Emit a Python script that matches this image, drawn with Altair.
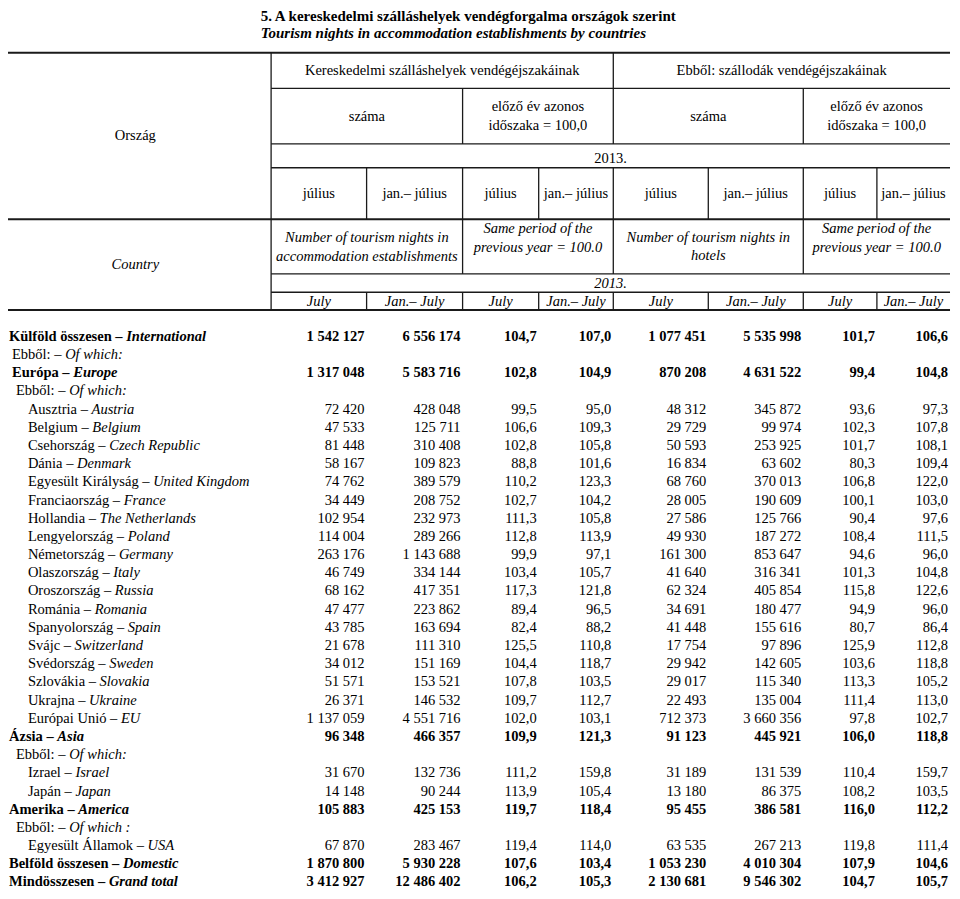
import altair as alt
import pandas as pd

# ---------------- data ----------------
hu_names = ["Külföld összesen", "Ebből:", "Európa", "Ebből:", "Ausztria", "Belgium", "Csehország", "Dánia",
            "Egyesült Királyság", "Franciaország", "Hollandia", "Lengyelország", "Németország", "Olaszország",
            "Oroszország", "Románia", "Spanyolország", "Svájc", "Svédország", "Szlovákia", "Ukrajna",
            "Európai Unió", "Ázsia", "Ebből:", "Izrael", "Japán", "Amerika", "Ebből:", "Egyesült Államok",
            "Belföld összesen", "Mindösszesen"]
en_names = ["International", "Of which:", "Europe", "Of which:", "Austria", "Belgium", "Czech Republic", "Denmark",
            "United Kingdom", "France", "The Netherlands", "Poland", "Germany", "Italy", "Russia", "Romania",
            "Spain", "Switzerland", "Sweden", "Slovakia", "Ukraine", "EU", "Asia", "Of which:", "Israel", "Japan",
            "America", "Of which :", "USA", "Domestic", "Grand total"]
row_level = [0, 1, 1, 2] + [3] * 18 + [0, 2, 3, 3, 0, 2, 3, 0, 0]
bold_rows = [0, 2, 22, 26, 29, 30]

N = None
nights_july = [1542127, N, 1317048, N, 72420, 47533, 81448, 58167, 74762, 34449, 102954, 114004, 263176, 46749,
               68162, 47477, 43785, 21678, 34012, 51571, 26371, 1137059, 96348, N, 31670, 14148, 105883, N, 67870,
               1870800, 3412927]
nights_janjul = [6556174, N, 5583716, N, 428048, 125711, 310408, 109823, 389579, 208752, 232973, 289266, 1143688,
                 334144, 417351, 223862, 163694, 111310, 151169, 153521, 146532, 4551716, 466357, N, 132736, 90244,
                 425153, N, 283467, 5930228, 12486402]
index_july = [104.7, N, 102.8, N, 99.5, 106.6, 102.8, 88.8, 110.2, 102.7, 111.3, 112.8, 99.9, 103.4, 117.3, 89.4,
              82.4, 125.5, 104.4, 107.8, 109.7, 102.0, 109.9, N, 111.2, 113.9, 119.7, N, 119.4, 107.6, 106.2]
index_janjul = [107.0, N, 104.9, N, 95.0, 109.3, 105.8, 101.6, 123.3, 104.2, 105.8, 113.9, 97.1, 105.7, 121.8, 96.5,
                88.2, 110.8, 118.7, 103.5, 112.7, 103.1, 121.3, N, 159.8, 105.4, 118.4, N, 114.0, 103.4, 105.3]
hotel_july = [1077451, N, 870208, N, 48312, 29729, 50593, 16834, 68760, 28005, 27586, 49930, 161300, 41640, 62324,
              34691, 41448, 17754, 29942, 29017, 22493, 712373, 91123, N, 31189, 13180, 95455, N, 63535, 1053230,
              2130681]
hotel_janjul = [5535998, N, 4631522, N, 345872, 99974, 253925, 63602, 370013, 190609, 125766, 187272, 853647,
                316341, 405854, 180477, 155616, 97896, 142605, 115340, 135004, 3660356, 445921, N, 131539, 86375,
                386581, N, 267213, 4010304, 9546302]
hindex_july = [101.7, N, 99.4, N, 93.6, 102.3, 101.7, 80.3, 106.8, 100.1, 90.4, 108.4, 94.6, 101.3, 115.8, 94.9,
               80.7, 125.9, 103.6, 113.3, 111.4, 97.8, 106.0, N, 110.4, 108.2, 116.0, N, 119.8, 107.9, 104.7]
hindex_janjul = [106.6, N, 104.8, N, 97.3, 107.8, 108.1, 109.4, 122.0, 103.0, 97.6, 111.5, 96.0, 104.8, 122.6,
                 96.0, 86.4, 112.8, 118.8, 105.2, 113.0, 102.7, 118.8, N, 159.7, 103.5, 112.2, N, 111.4, 104.6, 105.7]

value_columns = [nights_july, nights_janjul, index_july, index_janjul,
                 hotel_july, hotel_janjul, hindex_july, hindex_janjul]
value_kind = ["int", "int", "idx", "idx", "int", "int", "idx", "idx"]

title_hu = "5. A kereskedelmi szálláshelyek vendégforgalma országok szerint"
title_en = "Tourism nights in accommodation establishments by countries"
group_hu = ["Kereskedelmi szálláshelyek vendégéjszakáinak", "Ebből: szállodák vendégéjszakáinak"]
sub_hu = ["száma", ["előző év azonos", "időszaka = 100,0"], "száma", ["előző év azonos", "időszaka = 100,0"]]
sub_en = [["Number of tourism nights in", "accommodation establishments"], ["Same period of the", "previous year = 100.0"],
          ["Number of tourism nights in", "hotels"], ["Same period of the", "previous year = 100.0"]]
year_label = "2013."
period_hu = ["július", "jan.– július"]
period_en = ["July", "Jan.– July"]

# ---------------- layout ----------------
FONT = "Liberation Serif"
FS = 14.5
EDGES = [272.5, 368.5, 465, 541.5, 616.5, 712, 807.5, 881.5, 955]
RIGHT = 955
LEFT = 8
INDENT = {0: 9, 1: 12, 2: 16, 3: 28}


def row_y(i):
    return 339.5 + 18.33 * i


# Times / Liberation Serif advance widths (per 1000 em)
low = "abcdefghijklmnopqrstuvwxyz"
up = "ABCDEFGHIJKLMNOPQRSTUVWXYZ"
TR = dict(zip(low, [444, 500, 444, 500, 444, 333, 500, 500, 278, 278, 500, 278, 778, 500, 500, 500, 500, 333, 389,
                    278, 500, 500, 722, 500, 500, 444]))
TR.update(zip(up, [722, 667, 667, 722, 611, 556, 722, 722, 333, 389, 722, 611, 889, 722, 722, 556, 722, 667, 556,
                   611, 722, 722, 944, 722, 722, 611]))
TR.update({" ": 250, ":": 278, ".": 250, "–": 500, ",": 250})
TB = dict(zip(low, [500, 556, 444, 556, 444, 333, 500, 556, 278, 333, 556, 278, 833, 556, 500, 556, 556, 444, 389,
                    333, 556, 500, 722, 500, 500, 444]))
TB.update(zip(up, [722, 667, 722, 722, 667, 611, 778, 778, 389, 500, 778, 667, 944, 722, 778, 611, 778, 722, 556,
                   667, 722, 722, 1000, 722, 722, 667]))
TB.update({" ": 250, ":": 333, ".": 250, "–": 500, ",": 250})
ACC = str.maketrans("áéíóöőúüűÁÉÍÓÖŐÚÜŰ", "aeiooouuuAEIOOOUUU")

# plot box and the reference-pixel window mapped onto it (slightly compressed to fit the page)
W, H = 944, 883
XDOM = [8, 957]
YDOM = [8, 898]
KX = W / (XDOM[1] - XDOM[0])


def text_width(s, bold):
    table = TB if bold else TR
    return sum(table.get(ch, 500) for ch in s.translate(ACC)) * FS / 1000.0 / KX


texts = []  # x, y, t, align, weight, style, fs


def add(t, x, y, align="center", weight="normal", style="normal", fs=FS):
    texts.append(dict(x=x, y=y, t=t, align=align, weight=weight, style=style, fs=fs))


# title
add(title_hu, 262, 16, "left", "bold", "normal", 15)
add(title_en, 262, 33, "left", "bold", "italic", 15)

# Hungarian header
add("Ország", 136, 137)
add(group_hu[0], (EDGES[0] + EDGES[4]) / 2, 71.5)
add(group_hu[1], (EDGES[4] + EDGES[8]) / 2, 71.5)
for k, s in enumerate(sub_hu):
    cx = (EDGES[2 * k] + EDGES[2 * k + 2]) / 2
    if isinstance(s, list):
        add(s[0], cx, 108)
        add(s[1], cx, 127)
    else:
        add(s, cx, 117.5)
add(year_label, (EDGES[0] + EDGES[8]) / 2, 160.5)
for c in range(8):
    add(period_hu[c % 2], (EDGES[c] + EDGES[c + 1]) / 2, 195)

# English header
add("Country", 136, 267, style="italic")
for k, s in enumerate(sub_en):
    cx = (EDGES[2 * k] + EDGES[2 * k + 2]) / 2
    if k in (1, 3):
        ys = (231, 250)
    elif k == 0:
        ys = (240, 258.5)
    else:
        ys = (239.5, 257.5)
    add(s[0], cx, ys[0], style="italic")
    add(s[1], cx, ys[1], style="italic")
add(year_label, (EDGES[0] + EDGES[8]) / 2, 286, style="italic")
for c in range(8):
    add(period_en[c % 2], (EDGES[c] + EDGES[c + 1]) / 2, 304, style="italic")

# row labels
for i, (hu, en) in enumerate(zip(hu_names, en_names)):
    bold = i in bold_rows
    w = "bold" if bold else "normal"
    x0 = INDENT[row_level[i]]
    add(hu + " –", x0, row_y(i), "left", w, "normal")
    add(en, x0 + text_width(hu + " – ", bold), row_y(i), "left", w, "italic")

tdf = pd.DataFrame(texts)

# numbers (long format)
nums = []
for c, col in enumerate(value_columns):
    for i, v in enumerate(col):
        if v is None:
            continue
        nums.append(dict(x=EDGES[c + 1] - 2, y=row_y(i), v=v, kind=value_kind[c],
                         weight="bold" if i in bold_rows else "normal"))
ndf = pd.DataFrame(nums)

# grid lines
hsegs, vsegs = [], []


def hline(y, x1, x2, w):
    hsegs.append(dict(x=x1, x2=x2, y=y, w=w))


def vline(x, y1, y2, w=1.3):
    vsegs.append(dict(x=x, y=y1, y2=y2, w=w))


hline(53, LEFT, RIGHT, 2)
hline(221, LEFT, RIGHT, 2)
hline(312.5, LEFT, RIGHT, 2)
for yy in (89, 145, 169, 276, 294.5):
    hline(yy, EDGES[0], RIGHT, 1.3)
vline(EDGES[0], 53, 312.5)
vline(EDGES[4], 53, 145)
for xx in (EDGES[2], EDGES[6]):
    vline(xx, 89, 145)
for xx in (EDGES[2], EDGES[4], EDGES[6]):
    vline(xx, 169, 276)
for xx in (EDGES[1], EDGES[3], EDGES[5], EDGES[7]):
    vline(xx, 169, 221)
for xx in EDGES[1:8]:
    vline(xx, 294.5, 312.5)
hdf = pd.DataFrame(hsegs)
vdf = pd.DataFrame(vsegs)

# ---------------- chart ----------------
xs = alt.Scale(domain=XDOM, nice=False, zero=False)
ys = alt.Scale(domain=YDOM, nice=False, zero=False, reverse=True)
LINE = "#1a1a1a"

hrules = alt.Chart(hdf).mark_rule(color=LINE).encode(
    x=alt.X("x:Q", scale=xs, axis=None), x2="x2:Q",
    y=alt.Y("y:Q", scale=ys, axis=None),
    size=alt.Size("w:Q", scale=None, legend=None),
)
vrules = alt.Chart(vdf).mark_rule(color=LINE).encode(
    x=alt.X("x:Q", scale=xs, axis=None),
    y=alt.Y("y:Q", scale=ys, axis=None), y2="y2:Q",
    size=alt.Size("w:Q", scale=None, legend=None),
)

layers = [hrules, vrules]
for (align, weight, style), g in tdf.groupby(["align", "weight", "style"]):
    layers.append(
        alt.Chart(g).mark_text(align=align, baseline="middle", font=FONT, fontWeight=weight,
                               fontStyle=style, color="#000000").encode(
            x=alt.X("x:Q", scale=xs, axis=None),
            y=alt.Y("y:Q", scale=ys, axis=None),
            text="t:N",
            size=alt.Size("fs:Q", scale=None, legend=None),
        )
    )

for (kind, weight), g in ndf.groupby(["kind", "weight"]):
    fmt = ",d" if kind == "int" else ",.1f"
    layers.append(
        alt.Chart(g).mark_text(align="right", baseline="middle", font=FONT, fontWeight=weight,
                               fontSize=FS, color="#000000").encode(
            x=alt.X("x:Q", scale=xs, axis=None),
            y=alt.Y("y:Q", scale=ys, axis=None),
            text=alt.Text("v:Q", format=fmt),
        )
    )

chart = alt.layer(*layers).properties(
    width=W, height=H, padding=0, autosize=alt.AutoSizeParams(type="none"), background="white"
).configure(
    locale={"number": {"decimal": ",", "thousands": " ", "grouping": [3], "currency": ["", ""]}},
    view={"stroke": "transparent", "strokeWidth": 0},
)

chart.save("out.html", embed_options={"renderer": "svg", "actions": False})
